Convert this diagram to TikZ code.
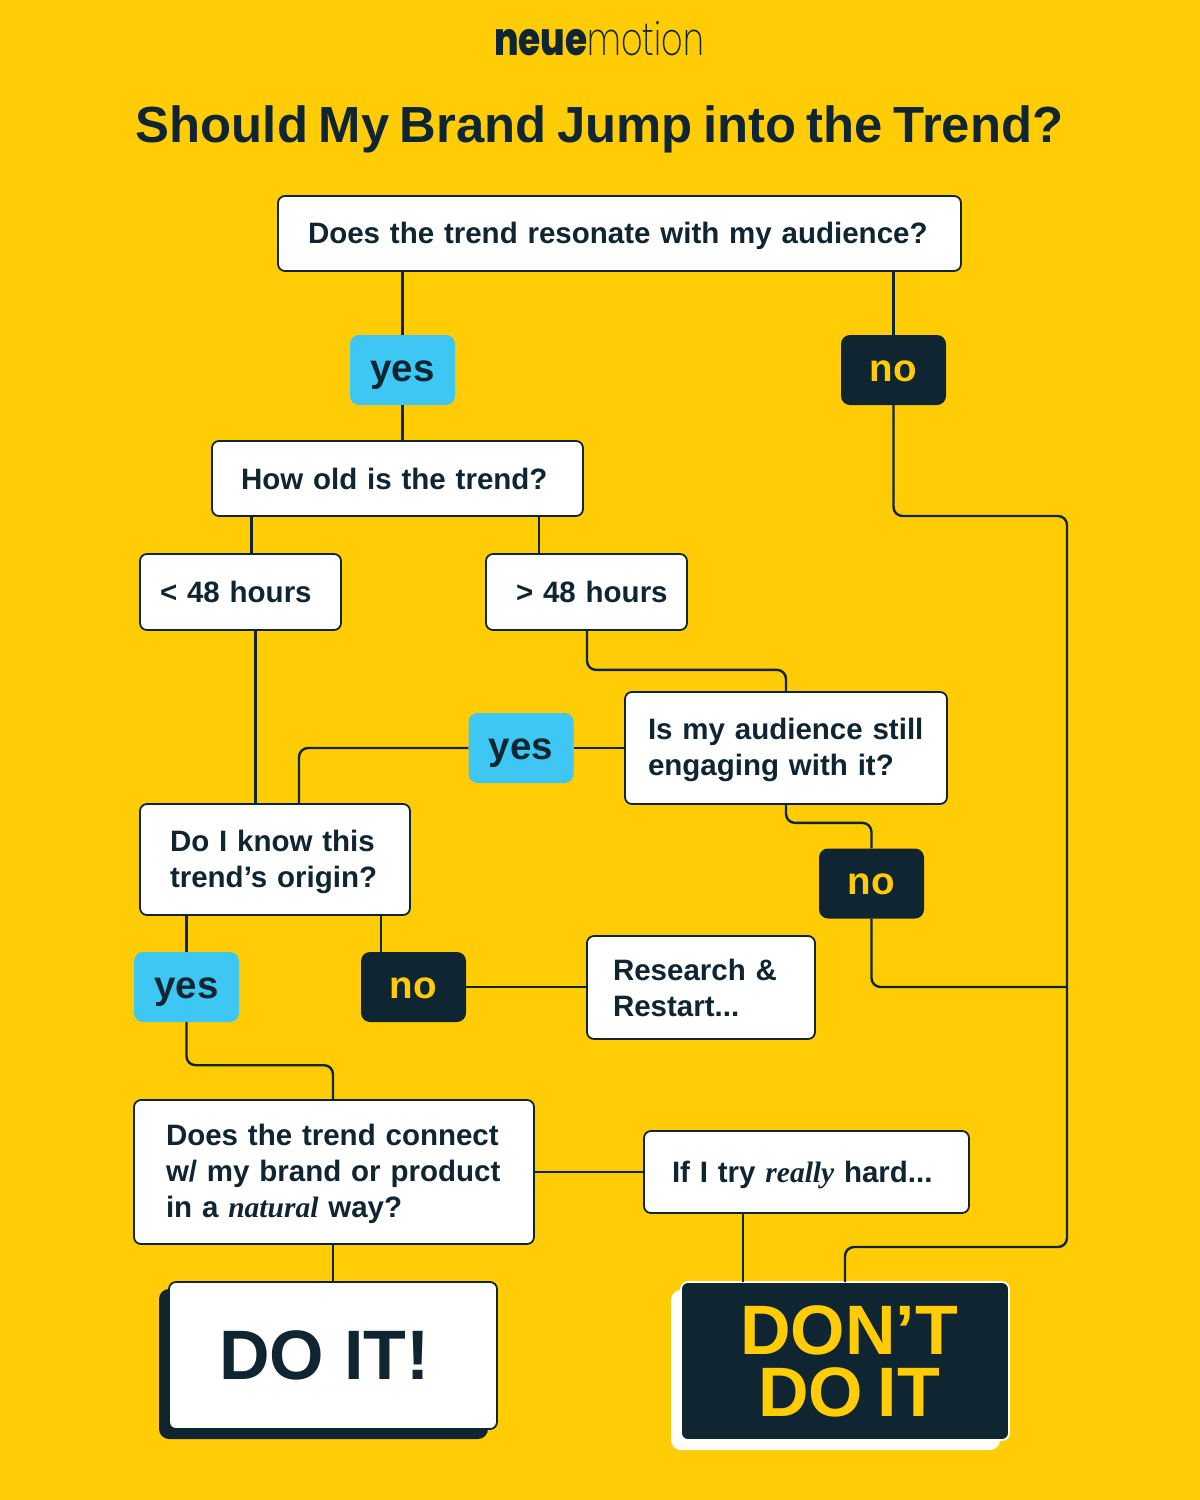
\documentclass[tikz,border=0pt]{standalone}
\usepackage{fontspec}
\setmainfont{Liberation Sans}[WordSpace=0.75]
\newfontfamily\serifface{Liberation Serif}
\newfontfamily\logolight{Poppins ExtraLight}[FakeStretch=0.725]
\newfontfamily\logoheavy{Poppins ExtraBold}[FakeStretch=0.78]
\definecolor{ink}{HTML}{0F2532}
\definecolor{sun}{HTML}{FFCC05}
\definecolor{sky}{HTML}{3FC7F4}
\newcommand{\really}[1]{{\serifface\itshape #1}}
\tikzset{
  box/.style n args={2}{draw=ink,fill=white,rounded corners=7pt,line width=1.8pt,font=\fontsize{29.5}{36}\selectfont\bfseries,text=ink,align=left,text width=#1,inner sep=0pt,execute at begin node={\leftskip=#2\hyphenpenalty=10000\relax},execute at end node={\vspace{-4pt}}},
  lower/.style={execute at end node={\vspace{-8pt}}},
  upper/.style={execute at end node={\vspace{4pt}}},
  tag/.style={rounded corners=9pt,minimum width=105pt,minimum height=70pt,inner sep=0pt,text height=27pt,text depth=5pt,font=\fontsize{38.5}{39}\selectfont\bfseries},
  tagyes/.style={tag,fill=sky,text=ink},
  tagno/.style={tag,fill=ink,text=sun},
  link/.style={draw=ink,line width=2.4pt,rounded corners=9pt}
}
\begin{document}
\begin{tikzpicture}[x=1pt,y=-1pt]
  \useasboundingbox (0,0) rectangle (1200,1500);
  \fill[sun] (0,0) rectangle (1200,1500);

  \node[text=ink,inner sep=0pt,font=\fontsize{46}{46}\selectfont] (logo) at (599,39) {{\logoheavy neue}{\logolight motion}};
  \node[text=ink,inner sep=0pt,font=\fontsize{50.8}{51}\selectfont\bfseries] (title) at (599.5,129) {Should My Brand Jump into the Trend?};

  \node[box={683pt}{30pt},minimum height=75pt] (top) at (619.5,233.5) {Does the trend resonate with my audience?};
  \node[tagyes] (yesa) at (402.5,370) {yes};
  \node[tagno] (noa) at (893.5,370) {no};
  \node[box={371pt}{29pt},minimum height=75pt] (old) at (397.5,478.5) {How old is the trend?};
  \node[box={201pt}{20pt},minimum height=76pt,lower] (under) at (240.5,592) {< 48 hours};
  \node[box={201pt}{30pt},minimum height=76pt,lower] (over) at (586.5,592) {> 48 hours};
  \node[box={322pt}{23pt},minimum height=112pt] (still) at (786,748) {Is my audience still\\engaging with it?};
  \node[tagyes] (yesb) at (521,748) {yes};
  \node[tagno] (nob) at (871.5,883.5) {no};
  \node[box={270pt}{30pt},minimum height=111pt] (origin) at (275,859.5) {Do I know this\\trend’s origin?};
  \node[tagyes] (yesc) at (186.5,987) {yes};
  \node[tagno] (noc) at (413.5,987) {no};
  \node[box={228pt}{26pt},minimum height=103pt,upper] (research) at (701,987.5) {Research \&\\Restart...};
  \node[box={400pt}{32pt},minimum height=144pt] (connect) at (334,1172) {Does the trend connect\\w/ my brand or product\\in a \really{natural} way?};
  \node[box={325pt}{28pt},minimum height=82pt,lower] (try) at (806.5,1172) {If I try \really{really} hard...};

  \node[fill=ink,rounded corners=10pt,minimum width=329pt,minimum height=150pt] (doshade) at (323.5,1364) {};
  \node[box={328pt}{50pt},minimum height=147pt,font=\fontsize{70}{70}\selectfont\bfseries,execute at end node={}] (doit) at (333,1355.5) {DO\kern-3pt\ IT!};
  \node[fill=white,rounded corners=10pt,minimum width=329pt,minimum height=160pt] (dontshade) at (835.5,1370) {};
  \node[draw=white,fill=ink,text=sun,rounded corners=7pt,line width=1.8pt,minimum width=328pt,minimum height=158pt,inner sep=0pt,align=center,font=\fontsize{70}{62}\selectfont\bfseries] (dont) at (845,1361) {\hspace*{8pt}DON’T\\\hspace*{8pt}DO IT};

  \coordinate (undertop) at (251.5,554);
  \coordinate (overtop) at (539,554);
  \coordinate (underdrop) at (255.5,630);
  \coordinate (originyes) at (186.5,915);
  \coordinate (originno) at (381,915);
  \coordinate (trunk) at (1067,987);

  \draw[link] (top.south -| yesa.north) -- (yesa.north);
  \draw[link] (top.south -| noa.north) -- (noa.north);
  \draw[link] (yesa.south) -- (yesa.south |- old.north);
  \draw[link] (undertop) -- (undertop |- old.south);
  \draw[link] (overtop) -- (overtop |- old.south);
  \draw[link] (underdrop) -- (underdrop |- origin.north);
  \draw[link] (over.south) ++(0.5,0) -- ++(0,39) -| (still.north);
  \draw[link] (still.west) -- (yesb.east);
  \draw[link] (yesb.west) -| (299,804);
  \draw[link] (still.south) -- ++(0,18) -| (nob.north);
  \draw[link] (nob.south) |- (trunk);
  \draw[link] (noa.south) |- (1067,516) |- (845,1247) -- (845,1282);
  \draw[link] (originyes) -- (originyes |- yesc.north);
  \draw[link] (originno) -- (originno |- noc.north);
  \draw[link] (noc.east) -- (noc.east -| research.west);
  \draw[link] (yesc.south) -- ++(0,43) -| (doit.north |- connect.north);
  \draw[link] (connect.east) -- (try.west);
  \draw[link] (743,1213) -- (743,1282);
  \draw[link] (doit.north |- connect.south) -- (doit.north);
\end{tikzpicture}
\end{document}
